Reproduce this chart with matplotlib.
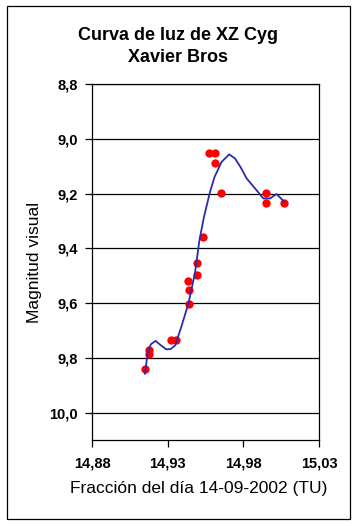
import matplotlib
matplotlib.use("Agg")
import matplotlib.pyplot as plt
from matplotlib.patches import Rectangle
from matplotlib.ticker import FixedLocator, FuncFormatter

plt.rcParams['font.family'] = ['Liberation Sans', 'DejaVu Sans']

# observaciones (fraccion del dia, magnitud visual)
obs_x = [14.915, 14.9179, 14.9179, 14.932, 14.9355, 14.944, 14.944, 14.9437,
         14.9496, 14.9496, 14.9536, 14.957, 14.9613, 14.961, 14.9655,
         14.9948, 14.9948, 15.007]
obs_y = [9.84, 9.773, 9.785, 9.736, 9.736, 9.602, 9.553, 9.52,
         9.496, 9.453, 9.36, 9.053, 9.053, 9.09, 9.197,
         9.197, 9.235, 9.235]

# curva ajustada
fit_x = [14.915, 14.917, 14.919, 14.922, 14.925, 14.929, 14.932, 14.935, 14.939,
         14.9437, 14.948, 14.951, 14.954, 14.958, 14.961, 14.9657, 14.9707,
         14.9745, 14.978, 14.9822, 14.9877, 14.9932, 14.9976, 15.002, 15.007]
fit_y = [9.858, 9.773, 9.75, 9.738, 9.752, 9.769, 9.768, 9.754, 9.687,
         9.602, 9.492, 9.370, 9.285, 9.194, 9.139, 9.084, 9.057,
         9.072, 9.102, 9.145, 9.181, 9.218, 9.218, 9.202, 9.230]

x_ticks = [14.88, 14.93, 14.98, 15.03]
y_ticks = [8.8, 9.0, 9.2, 9.4, 9.6, 9.8, 10.0]

fig = plt.figure(figsize=(3.57, 5.26), dpi=100)
fig.patches.append(Rectangle((7 / 357, 1 - 519 / 526), 343 / 357, 513 / 526,
                             transform=fig.transFigure, fill=False,
                             edgecolor='black', linewidth=0.9))

ax = fig.add_axes([92 / 357, 1 - 440 / 526, 227 / 357, 356 / 526])
ax.plot(obs_x, obs_y, 'o', color='#ff0000', markersize=6, markeredgewidth=0, zorder=2)
ax.plot(fit_x, fit_y, '-', color='#2b2bab', linewidth=1.3, zorder=3)

ax.set_xlim(14.88, 15.03)
ax.set_ylim(10.1, 8.8)
ax.xaxis.set_major_locator(FixedLocator(x_ticks))
ax.yaxis.set_major_locator(FixedLocator(y_ticks))
ax.xaxis.set_major_formatter(FuncFormatter(lambda v, p: f"{v:.2f}".replace('.', ',')))
ax.yaxis.set_major_formatter(FuncFormatter(lambda v, p: f"{v:.1f}".replace('.', ',')))
for lab in ax.get_xticklabels() + ax.get_yticklabels():
    lab.set_fontweight('bold')
ax.tick_params(axis='both', direction='out', length=5, width=0.9, labelsize=10.5)
ax.tick_params(axis='x', pad=7)
ax.tick_params(axis='y', pad=5)
ax.grid(axis='y', color='black', linewidth=0.9)
ax.set_axisbelow(True)
for s in ax.spines.values():
    s.set_linewidth(0.9)

ax.set_xlabel("Fracción del día 14-09-2002 (TU)", fontsize=12.5)
ax.set_ylabel("Magnitud visual", fontsize=12.5)
ax.xaxis.set_label_coords((199 - 92) / 227, (440 - 488) / 356)
ax.yaxis.set_label_coords((35 - 92) / 227, (440 - 262) / 356)
ax.xaxis.label.set_va('center')
ax.yaxis.label.set_ha('center')
ax.yaxis.label.set_va('center')

fig.text(178 / 357, 1 - 35 / 526, "Curva de luz de XZ Cyg", ha='center', va='center',
         fontsize=13, fontweight='bold')
fig.text(178 / 357, 1 - 57 / 526, "Xavier Bros", ha='center', va='center',
         fontsize=13, fontweight='bold')

fig.savefig("out.png", dpi=100)
